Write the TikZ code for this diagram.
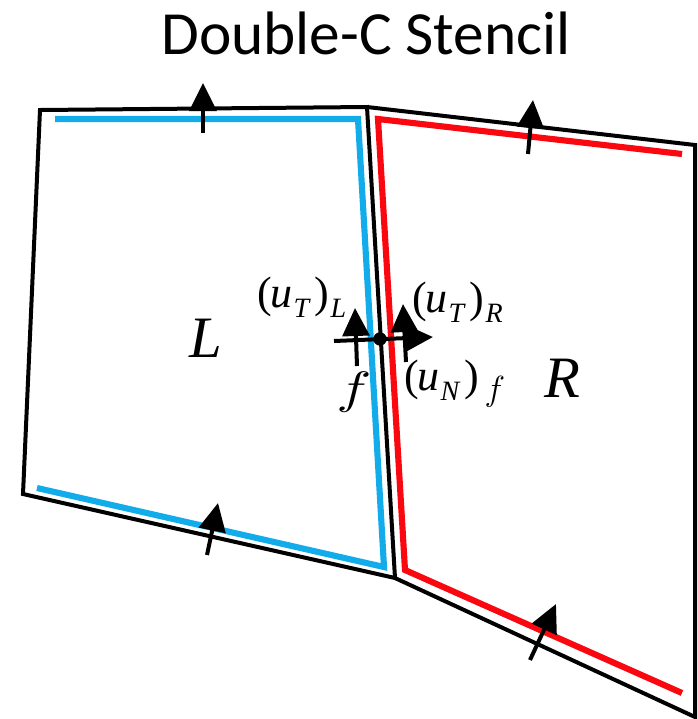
\documentclass[tikz,border=0pt]{standalone}
\usepackage{fontspec}
\usepackage{graphicx}
\setmainfont{Liberation Serif}
\newfontfamily\titlefont{Carlito}
\usetikzlibrary{arrows.meta}
\newcommand{\subs}[1]{\raisebox{-8pt}{\fontsize{21}{21}\selectfont\itshape #1}}
\newcommand{\subf}{\kern3pt\raisebox{-8pt}{\scalebox{1.05}{$f$}}}
\newcommand{\velo}[2]{{\fontsize{33}{33}\selectfont(\kern-1pt{\itshape u}\kern1pt\subs{#1}\kern4pt)\kern1pt #2}}
\tikzset{
  cell/.style={draw=black,line width=3pt,line join=miter,miter limit=4},
  bluestencil/.style={draw=stencilblue,line width=4.6pt,line join=miter},
  redstencil/.style={draw=stencilred,line width=4.6pt,line join=miter},
  vec/.style={draw=black,line width=3pt,-{Triangle[length=21pt,width=20pt]}},
  lab/.style={inner sep=0pt,outer sep=0pt,anchor=base west},
  big/.style={inner sep=0pt,outer sep=0pt,anchor=center,font=\fontsize{44}{44}\selectfont\itshape},
}
\definecolor{stencilblue}{RGB}{18,172,235}
\definecolor{stencilred}{RGB}{250,8,16}
\begin{document}
\begin{tikzpicture}[x=0.75pt,y=-0.75pt]
\useasboundingbox (0,0) rectangle (698,719);
% cell corners
\coordinate (TL) at (40,110);
\coordinate (TM) at (367,107);
\coordinate (TR) at (695,145);
\coordinate (BR) at (695,717);
\coordinate (BM) at (395,578);
\coordinate (BL) at (23,494);
\draw[cell] (TL) -- (TM) -- (BM) -- (BL) -- cycle;
\draw[cell] (TM) -- (TR) -- (BR) -- (BM);
% stencils
\coordinate (b1) at (55,119);
\coordinate (b2) at (358,119);
\coordinate (b3) at (384,567);
\coordinate (b4) at (37,488);
\draw[bluestencil] (b1) -- (b2) -- (b3) -- (b4);
\coordinate (r1) at (682,154);
\coordinate (r2) at (378,119);
\coordinate (r3) at (405,570);
\coordinate (r4) at (682,693);
\draw[redstencil] (r1) -- (r2) -- (r3) -- (r4);
% face vectors
\coordinate (a1) at (203,133); \coordinate (a1t) at (203,83);
\coordinate (a2) at (528,154); \coordinate (a2t) at (533,100);
\coordinate (a3) at (207,555); \coordinate (a3t) at (218,503);
\coordinate (a4) at (530,660); \coordinate (a4t) at (556,604);
\draw[vec] (a1) -- (a1t);
\draw[vec] (a2) -- (a2t);
\draw[vec] (a3) -- (a3t);
\draw[vec] (a4) -- (a4t);
% central vectors
\coordinate (c1) at (357,366); \coordinate (c1t) at (355,308);
\coordinate (c2) at (406,362); \coordinate (c2t) at (403,304);
\coordinate (c3) at (334,341); \coordinate (c3t) at (433,337);
\draw[vec] (c1) -- (c1t);
\draw[vec] (c2) -- (c2t);
\draw[vec] (c3) -- (c3t);
\node[circle,fill=black,inner sep=0pt,minimum size=10pt] (dot) at (380,339) {};
% labels
\node[inner sep=0pt,anchor=center] (title) at (366,33) {\titlefont\fontsize{46}{46}\selectfont Double-C Stencil};
\node[big] (L) at (206,338) {L};
\node[big] (R) at (562,378) {R};
\node[lab] (utl) at (257,307) {\velo{T}{\subs{L}}};
\node[lab] (utr) at (412,312) {\velo{T}{\subs{R}}};
\node[lab] (unf) at (404,390) {\velo{N}{\subf}};
\node[inner sep=0pt,anchor=center,xscale=4.4,yscale=3.4] (f) at (354,392) {$f$};
\end{tikzpicture}
\end{document}
